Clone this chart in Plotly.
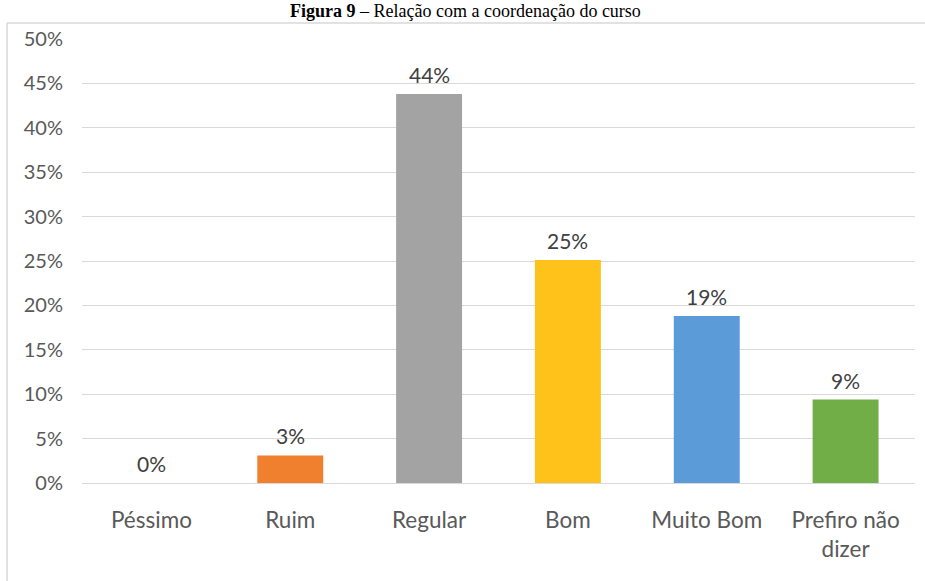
import plotly.graph_objects as go

categories = ["Péssimo", "Ruim", "Regular", "Bom", "Muito Bom", "Prefiro não<br>dizer"]
values = [0.0, 3.1, 43.8, 25.1, 18.8, 9.4]
labels = ["0%", "3%", "44%", "25%", "19%", "9%"]
colors = ["#A5A5A5", "#F07F2E", "#A3A3A3", "#FFC21A", "#5B9BD8", "#72AE48"]
tick_vals = [0, 5, 10, 15, 20, 25, 30, 35, 40, 45, 50]
tick_text = [f"{v}%" for v in tick_vals]

fig = go.Figure(go.Bar(
    x=categories, y=values, marker=dict(color=colors, line=dict(width=0)),
    width=0.475, cliponaxis=False,
))

for c, v, t in zip(categories, values, labels):
    fig.add_annotation(x=c, y=v, text=t, showarrow=False, yanchor="bottom",
                       yshift=5, font=dict(family="Lato", size=21, color="#404040"))

W, H = 925, 581
ml, mr, mt, mb = 82, 10, 39, 98
pw, ph = W - ml - mr, H - mt - mb

fig.update_layout(
    width=W, height=H,
    margin=dict(l=ml, r=mr, t=mt, b=mb, autoexpand=False),
    paper_bgcolor="white", plot_bgcolor="white",
    showlegend=False,
    font=dict(family="Lato", size=20, color="#595959"),
    xaxis=dict(showgrid=False, showline=True, linecolor="#D9D9D9", linewidth=1,
               ticks="", automargin=False, ticklabelstandoff=17,
               tickfont=dict(size=22.5, color="#595959")),
    yaxis=dict(range=[0, 50], tickvals=tick_vals, ticktext=tick_text, automargin=False,
               showgrid=True, gridcolor="#D9D9D9", gridwidth=1, zeroline=False,
               ticks="", ticklabelstandoff=18, tickfont=dict(size=20, color="#595959")),
)

# chart border (left and top visible)
x0 = (7 - ml) / pw
ytop = (H - mb - 23) / ph
fig.add_shape(type="line", xref="paper", yref="paper", x0=x0, x1=x0, y0=-1, y1=ytop,
              line=dict(color="#D9D9D9", width=1.5), layer="below")
fig.add_shape(type="line", xref="paper", yref="paper", x0=x0, x1=2, y0=ytop, y1=ytop,
              line=dict(color="#D9D9D9", width=1.5), layer="below")

# title
fig.add_annotation(xref="paper", yref="paper", x=(465 - ml) / pw, y=(H - mb) / ph,
                   xanchor="center", yanchor="top", showarrow=False, borderpad=0,
                   text="<b>Figura 9</b> – Relação com a coordenação do curso",
                   font=dict(family="Liberation Serif", size=18, color="black"))

fig.write_html("out.html", config={"displayModeBar": False},
               post_script="document.body.style.margin='0';")
